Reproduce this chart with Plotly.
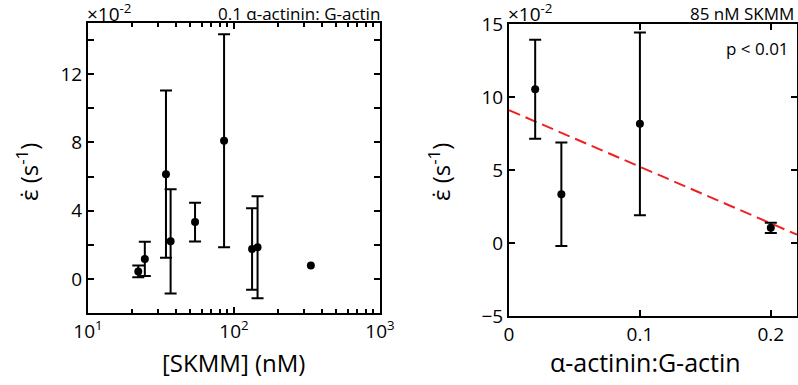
import plotly.graph_objects as go

# Left panel: strain rate vs SKMM concentration (0.1 alpha-actinin:G-actin)
skmm_nM = [22.1, 24.5, 34.2, 36.8, 54.1, 85.5, 133, 145, 336]
rate_left = [0.44, 1.17, 6.14, 2.20, 3.33, 8.10, 1.75, 1.85, 0.78]
err_left = [0.34, 1.0, 4.9, 3.06, 1.14, 6.24, 2.39, 2.99, None]

# Right panel: strain rate vs alpha-actinin:G-actin (85 nM SKMM)
ratio = [0.02, 0.04, 0.10, 0.20]
rate_right = [10.53, 3.34, 8.16, 1.04]
err_right = [3.39, 3.55, 6.26, 0.35]

# Linear fit (dashed red)
fit_x = [0.0, 0.22]
fit_y = [9.1, 0.57]

W, H = 798, 385
FONT = "Open Sans"

def px(x):
    return x / W

def py(y):
    return 1 - y / H

fig = go.Figure()

# points with error bars / without
idx_e = [i for i, e in enumerate(err_left) if e is not None]
idx_n = [i for i, e in enumerate(err_left) if e is None]

fig.add_trace(go.Scatter(
    x=[skmm_nM[i] for i in idx_e], y=[rate_left[i] for i in idx_e],
    mode="markers", marker=dict(color="black", size=8),
    error_y=dict(type="data", array=[err_left[i] for i in idx_e], visible=True,
                 color="black", thickness=2, width=6),
    xaxis="x", yaxis="y", showlegend=False))

fig.add_trace(go.Scatter(
    x=[skmm_nM[i] for i in idx_n], y=[rate_left[i] for i in idx_n],
    mode="markers", marker=dict(color="black", size=8),
    xaxis="x", yaxis="y", showlegend=False))

fig.add_trace(go.Scatter(
    x=fit_x, y=fit_y, mode="lines",
    line=dict(color="#ee2222", width=2, dash="12px,6px"),
    xaxis="x2", yaxis="y2", showlegend=False))

fig.add_trace(go.Scatter(
    x=ratio, y=rate_right, mode="markers",
    marker=dict(color="black", size=8),
    error_y=dict(type="data", array=err_right, visible=True,
                 color="black", thickness=2, width=6),
    xaxis="x2", yaxis="y2", showlegend=False))

axis_common = dict(showline=True, linecolor="black", linewidth=2,
                   mirror="ticks", ticks="inside", tickcolor="black",
                   tickwidth=2, ticklen=6, showgrid=False, zeroline=False,
                   automargin=False,
                   tickfont=dict(family=FONT, size=19, color="black"))

minor_vals = [v * m for m in (10, 100) for v in range(2, 10)]

fig.update_layout(
    width=W, height=H,
    margin=dict(l=0, r=0, t=0, b=0),
    paper_bgcolor="white", plot_bgcolor="white",
    font=dict(family=FONT, color="black"),
    xaxis=dict(domain=[px(88), px(380)], type="log", range=[1, 3],
               tickmode="array", tickvals=[10, 100, 1000],
               ticktext=["10<sup>1</sup>", "10<sup>2</sup>", "10<sup>3</sup>"],
               minor=dict(tickmode="array", tickvals=minor_vals,
                          ticks="inside", ticklen=4, tickwidth=1.5,
                          tickcolor="black"),
               anchor="y", **axis_common),
    yaxis=dict(domain=[py(313), py(23)], range=[-2, 15],
               tickmode="array", tickvals=[0, 4, 8, 12],
               minor=dict(tickmode="array", tickvals=[2, 6, 10, 14],
                          ticks="inside", ticklen=6, tickwidth=2,
                          tickcolor="black"),
               anchor="x", **axis_common),
    xaxis2=dict(domain=[px(509), px(797)], range=[0, 0.22],
                tickmode="array", tickvals=[0, 0.1, 0.2],
                anchor="y2", **axis_common),
    yaxis2=dict(domain=[py(316), py(24)], range=[-5, 15],
                tickmode="array", tickvals=[-5, 0, 5, 10, 15],
                anchor="x2", **axis_common),
)

ann = []
def add(text, x, y, size, xanchor="center", yanchor="middle", angle=0):
    ann.append(dict(text=text, x=px(x), y=py(y), xref="paper", yref="paper",
                    xanchor=xanchor, yanchor=yanchor, showarrow=False,
                    textangle=angle,
                    font=dict(family=FONT, size=size, color="black")))

add("×10<sup>-2</sup>", 85, 29, 19, xanchor="left", yanchor="bottom")
add("0.1 α-actinin: G-actin", 382, 13, 17, xanchor="right")
add("×10<sup>-2</sup>", 506, 29, 19, xanchor="left", yanchor="bottom")
add("85 nM SKMM", 796, 13, 17, xanchor="right")
add("p < 0.01", 791, 49, 17, xanchor="right")
add("[SKMM] (nM)", 233, 362, 24)
add("α-actinin:G-actin", 645, 362, 25)
add("ε̇ (s<sup>-1</sup>)", 28, 172, 24, angle=-90)
add("ε̇ (s<sup>-1</sup>)", 440, 172, 24, angle=-90)
fig.update_layout(annotations=ann)

fig.write_html("out.html", config={"displayModeBar": False},
               post_script="document.body.style.margin='0';document.body.style.padding='0';")
